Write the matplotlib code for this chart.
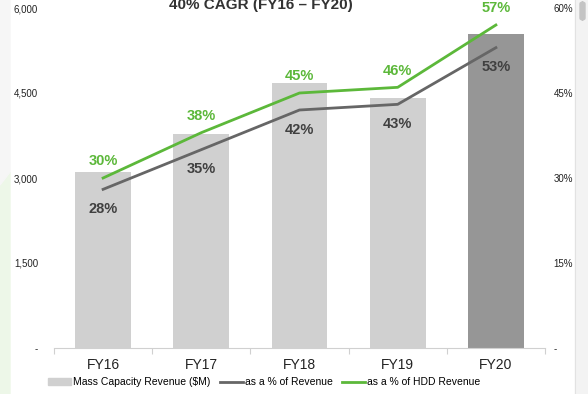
import matplotlib.pyplot as plt
from matplotlib.patches import Rectangle, Polygon, FancyBboxPatch
from matplotlib.lines import Line2D
import numpy as np

plt.rcParams['font.family'] = ['Liberation Sans', 'DejaVu Sans']

# data
years = ['FY16', 'FY17', 'FY18', 'FY19', 'FY20']
revenue = [3100, 3780, 4670, 4420, 5540]          # Mass Capacity Revenue ($M)
pct_rev = [28, 35, 42, 43, 53]                    # as a % of Revenue
pct_hdd = [30, 38, 45, 46, 57]                    # as a % of HDD Revenue
bar_colors = ['#d0d0d0', '#d0d0d0', '#d0d0d0', '#d0d0d0', '#969696']

fig = plt.figure(figsize=(5.88, 3.94), dpi=100)
W, H = 588, 394

# page decorations (left strip, right scrollbar)
fig.patches.append(Polygon([[0, 0], [10 / W, 0], [10 / W, 1 - 172 / H], [0, 1 - 185 / H]],
                           closed=True, transform=fig.transFigure, color='#edf7e8', zorder=0))
fig.patches.append(Polygon([[0, 1 - 185 / H], [10 / W, 1 - 172 / H], [10 / W, 1], [0, 1]],
                           closed=True, transform=fig.transFigure, color='#f6f6f6', zorder=0))
fig.patches.append(Rectangle((575 / W, 0), 13 / W, 1, transform=fig.transFigure,
                             color='#f3f3f3', zorder=0))
fig.lines.append(Line2D([575 / W, 575 / W], [0, 1], transform=fig.transFigure,
                        color='#e2e2e2', lw=0.8))
fig.patches.append(FancyBboxPatch((580 / W, 1 - 20 / H), 5 / W, 18 / H,
                                  boxstyle='round,pad=0,rounding_size=0.005',
                                  transform=fig.transFigure, color='#c4c4c4', zorder=1))

ax = fig.add_axes([54 / W, 1 - 348 / H, (545 - 54) / W, 340 / H])
x = np.arange(len(years))
ax.bar(x, revenue, width=0.57, color=bar_colors, zorder=2)
ax.set_ylim(0, 6000)
ax.set_xlim(-0.5, len(years) - 0.5)
ax.set_yticks([0, 1500, 3000, 4500, 6000])
ax.set_yticklabels(['-', '1,500', '3,000', '4,500', '6,000'], fontsize=7, color='#222222')
ax.tick_params(axis='y', length=0, pad=11.5)
ax.set_xticks(x)
ax.set_xticklabels(years, fontsize=10, color='#222222')
ax.tick_params(axis='x', length=0, pad=7)
ax.set_xticks(np.arange(-0.5, len(years)), minor=True)
ax.tick_params(axis='x', which='minor', length=4, color='#d0d0d0', width=0.8)
for s in ['top', 'right', 'left']:
    ax.spines[s].set_visible(False)
ax.spines['bottom'].set_color('#d0d0d0')
ax.spines['bottom'].set_linewidth(0.8)

ax2 = ax.twinx()
ax2.set_ylim(0, 60)
ax2.set_yticks([0, 15, 30, 45, 60])
ax2.set_yticklabels(['-', '15%', '30%', '45%', '60%'], fontsize=7, color='#222222')
ax2.tick_params(axis='y', length=0, pad=6)
for s in ['top', 'right', 'left', 'bottom']:
    ax2.spines[s].set_visible(False)

ax2.plot(x, pct_rev, color='#666666', lw=2, zorder=3)
ax2.plot(x, pct_hdd, color='#5cb83a', lw=2, zorder=3)
for i in range(len(years)):
    ax2.annotate(f'{pct_hdd[i]}%', (x[i], pct_hdd[i]), xytext=(0, 7), textcoords='offset points',
                 ha='center', va='bottom', fontsize=10.5, fontweight='bold', color='#5cb83a')
    ax2.annotate(f'{pct_rev[i]}%', (x[i], pct_rev[i]), xytext=(0, -9), textcoords='offset points',
                 ha='center', va='top', fontsize=10.5, fontweight='bold', color='#404040')

# title, cut off at the top as in the screenshot
fig.text(261 / W, 1 - 8.5 / H, '40% CAGR (FY16 – FY20)', ha='center', va='baseline',
         fontsize=11, fontweight='bold', color='#333333')

handles = [Rectangle((0, 0), 1, 1, color='#d0d0d0'),
           Line2D([], [], color='#666666', lw=2),
           Line2D([], [], color='#5cb83a', lw=2)]
fig.legend(handles, ['Mass Capacity Revenue ($M)', 'as a % of Revenue', 'as a % of HDD Revenue'],
           loc='center', bbox_to_anchor=(264 / W, 1 - 382 / H), ncol=3, frameon=False,
           fontsize=7.5, handlelength=2.2, handleheight=0.6, handletextpad=0.2,
           columnspacing=0.9, borderpad=0)

fig.savefig('out.png', dpi=100)
